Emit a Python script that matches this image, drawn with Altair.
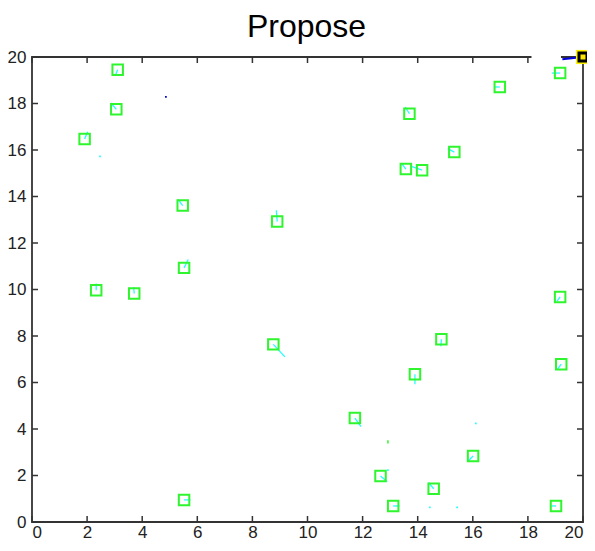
import altair as alt
import pandas as pd

title_text = ["Propose"]

# Square markers (centres) and their direction segments (end points)
sq_x = [3.11, 3.06, 1.91, 5.47, 8.90, 5.52, 2.33, 3.71, 19.17, 16.98, 13.70, 15.33, 13.57,
        14.16, 8.76, 5.52, 19.17, 14.86, 13.90, 19.21, 11.72, 16.01, 12.65, 14.58, 13.11, 19.02]
sq_y = [19.45, 17.75, 16.47, 13.61, 12.92, 10.93, 9.97, 9.83, 19.31, 18.71, 17.56, 15.91, 15.18,
        15.13, 7.64, 0.95, 9.68, 7.86, 6.35, 6.79, 4.47, 2.84, 1.98, 1.43, 0.69, 0.69]
end_x = [3.04, 2.87, 2.02, 5.30, 8.87, 5.67, 2.33, 3.69, 18.87, 16.77, 13.55, 15.09, 13.41,
         13.77, 9.18, 5.75, 19.06, 14.84, 13.90, 19.08, 11.94, 15.81, 12.89, 14.40, 13.34, 18.85]
end_y = [19.25, 18.02, 16.79, 13.88, 13.41, 11.29, 10.26, 10.11, 19.31, 18.71, 17.85, 16.06, 15.44,
         15.30, 7.10, 0.95, 9.50, 7.56, 5.92, 6.57, 4.10, 2.59, 1.73, 1.69, 0.69, 0.69]

# Lone cyan dots
dot_x = [2.47, 16.11, 12.92, 14.44, 15.43]
dot_y = [15.73, 4.24, 2.23, 0.63, 0.63]

# Blue dot
blue_x = [4.86]
blue_y = [18.28]

# Short green stroke
g_x = [12.92]
g_y1 = [3.38]
g_y2 = [3.52]

# Blue line to the goal marker
line_x = [19.25, 20.0]
line_y = [19.9, 20.0]

# Goal marker
goal_x = [20.0]
goal_y = [20.0]

# Gap in the top frame
gap_x1 = [18.13]
gap_x2 = [19.20]
gap_y = [20.0]

ticks = [0, 2, 4, 6, 8, 10, 12, 14, 16, 18, 20]

W, H = 551, 465

sq = pd.DataFrame({"x": sq_x, "y": sq_y, "x2": end_x, "y2": end_y})
dots = pd.DataFrame({"x": dot_x, "y": dot_y})
blue = pd.DataFrame({"x": blue_x, "y": blue_y})
gseg = pd.DataFrame({"x": g_x, "y": g_y1, "y2": g_y2})
bline = pd.DataFrame({"x": line_x, "y": line_y})
goal = pd.DataFrame({"x": goal_x, "y": goal_y})
gap = pd.DataFrame({"x": gap_x1, "x2": gap_x2, "y": gap_y})
tk = pd.DataFrame({"t": ticks})
ttl = pd.DataFrame({"t": title_text})

scale = alt.Scale(domain=[0, 20], nice=False, zero=False)
xaxis = alt.Axis(values=ticks, ticks=False, tickSize=0, domain=False, grid=False,
                 labelFontSize=17, labelPadding=2, labelColor="#222222",
                 labelFont="Liberation Sans", title=None, format="d")
yaxis = alt.Axis(values=ticks, ticks=False, tickSize=0, domain=False, grid=False,
                 labelFontSize=17, labelPadding=6, labelColor="#222222",
                 labelFont="Liberation Sans", title=None, format="d")


def X(f):
    return alt.X(f"{f}:Q", scale=scale, axis=xaxis)


def Y(f):
    return alt.Y(f"{f}:Q", scale=scale, axis=yaxis)


green = "#2EF52E"
cyan = "#22FFFF"
frame = "#333333"

squares = alt.Chart(sq).mark_point(shape="square", size=110, filled=False,
                                   color=green, strokeWidth=2, opacity=1).encode(x=X("x"), y=Y("y"))
segs = alt.Chart(sq).mark_rule(color=cyan, strokeWidth=1.3).encode(
    x=X("x"), y=Y("y"), x2="x2", y2="y2")
cdots = alt.Chart(dots).mark_point(shape="square", size=3, filled=True, color=cyan,
                                   opacity=1).encode(x=X("x"), y=Y("y"))
bdot = alt.Chart(blue).mark_point(shape="square", size=3, filled=True, color="#0000CC",
                                  opacity=1).encode(x=X("x"), y=Y("y"))
gs = alt.Chart(gseg).mark_rule(color=green, strokeWidth=1.5).encode(x=X("x"), y=Y("y"), y2="y2")

gapr = alt.Chart(gap).mark_rule(color="white", strokeWidth=4).encode(x=X("x"), x2="x2", y=Y("y"))
bl = alt.Chart(bline).mark_line(color="#0000DD", strokeWidth=2).encode(x=X("x"), y=Y("y"))
goal_outer = alt.Chart(goal).mark_point(shape="square", size=200, filled=True, color="#FFF200",
                                        opacity=1).encode(x=X("x"), y=Y("y"))
goal_inner = alt.Chart(goal).mark_point(shape="square", size=64, filled=True, fill="#FFE800",
                                        stroke="black", strokeWidth=3, opacity=1).encode(
    x=X("x"), y=Y("y"))

bt = alt.Chart(tk).mark_rule(color=frame, strokeWidth=1.5).encode(
    x=X("t"), y=alt.value(H), y2=alt.value(H - 6))
tt = alt.Chart(tk).mark_rule(color=frame, strokeWidth=1.5).encode(
    x=X("t"), y=alt.value(0), y2=alt.value(6))
lt = alt.Chart(tk).mark_rule(color=frame, strokeWidth=1.5).encode(
    y=Y("t"), x=alt.value(0), x2=alt.value(6))
rt = alt.Chart(tk).mark_rule(color=frame, strokeWidth=1.5).encode(
    y=Y("t"), x=alt.value(W), x2=alt.value(W - 6))

title = alt.Chart(ttl).mark_text(fontSize=32, font="Liberation Sans", color="black",
                                 align="center", baseline="alphabetic").encode(
    text="t:N", x=alt.value(W / 2 - 1), y=alt.value(-20))

chart = alt.layer(
    bt, tt, lt, rt, segs, squares, cdots, bdot, gs, gapr, bl, goal_outer, goal_inner, title
).properties(
    width=W, height=H,
    padding={"left": 24, "top": 49, "right": 4, "bottom": 21},
    autosize=alt.AutoSizeParams(type="none"),
).configure_view(stroke=frame, strokeWidth=1.8)

chart.save("out.html", embed_options={"renderer": "svg", "actions": False})
